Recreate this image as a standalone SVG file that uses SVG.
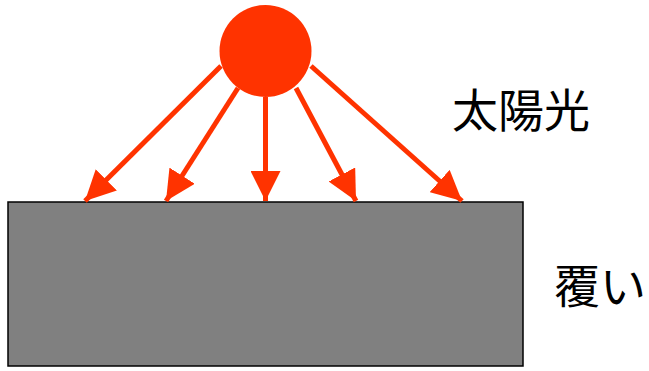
<svg xmlns="http://www.w3.org/2000/svg" width="649" height="371" viewBox="0 0 649 371">
<style>
.ray{stroke:#ff3300;stroke-width:5;fill:none;marker-end:url(#ah)}
.lbl{font-family:"Liberation Sans","Noto Sans CJK JP",sans-serif;font-size:46px;fill:#000}
</style>
<defs>
<marker id="ah" markerUnits="userSpaceOnUse" viewBox="0 0 30 30" refX="30" refY="15" markerWidth="30" markerHeight="30" orient="auto">
<path d="M0,0 L30,15 L0,30 Z" fill="#ff3300"/>
</marker>
</defs>
<g id="cover">
<rect x="8" y="202" width="515" height="164" fill="#808080" stroke="#000" stroke-width="1.5"/>
</g>
<g id="connectors">
<line class="ray" x1="221" y1="66" x2="85" y2="201"/>
<line class="ray" x1="238" y1="88" x2="166" y2="201"/>
<line class="ray" x1="265.5" y1="97" x2="265.5" y2="201"/>
<line class="ray" x1="296" y1="88" x2="356" y2="201"/>
<line class="ray" x1="311" y1="66" x2="462" y2="201"/>
</g>
<g id="sun">
<circle cx="265.5" cy="51" r="46" fill="#ff3300"/>
</g>
<g id="label-sun"><text class="lbl" x="452" y="127">太陽光</text></g>
<g id="label-cover"><text class="lbl" x="554" y="303">覆い</text></g>
</svg>
